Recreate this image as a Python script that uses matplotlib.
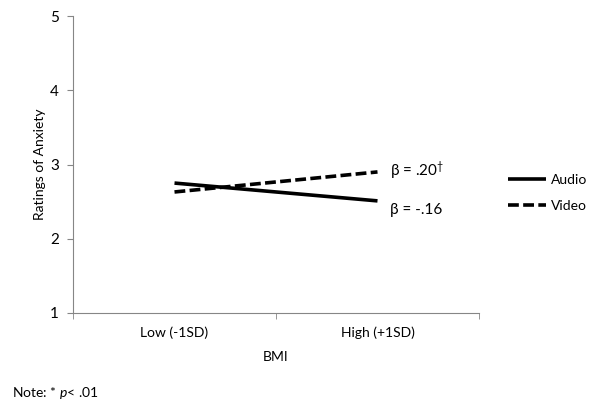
import matplotlib
matplotlib.use('Agg')
import matplotlib.pyplot as plt
from matplotlib.lines import Line2D

plt.rcParams['font.family'] = ['Lato', 'DejaVu Sans']
plt.rcParams['mathtext.fontset'] = 'custom'
plt.rcParams['mathtext.rm'] = 'Lato'
plt.rcParams['mathtext.it'] = 'Lato:italic'

categories = ['Low (-1SD)', 'High (+1SD)']
audio = [2.75, 2.51]
video = [2.63, 2.90]
audio_label = 'β = -.16'
video_label = r'β = .20$^{\dagger}$'

fig = plt.figure(figsize=(6, 4.15), dpi=100)
ax = fig.add_axes([73 / 600, 1 - 313 / 415, (479 - 73) / 600, (313 - 16) / 415])

x = list(range(len(categories)))
ax.plot(x, audio, color='black', lw=2.6, solid_capstyle='butt', label='Audio')
ax.plot(x, video, color='black', lw=2.6, ls=(0, (3, 1.2)), dash_capstyle='butt', label='Video')

ax.text(x[-1] + 0.06, video[-1] + 0.02, video_label, fontsize=11, va='center', ha='left')
ax.text(x[-1] + 0.06, audio[-1] - 0.12, audio_label, fontsize=11, va='center', ha='left')

ax.set_xlim(-0.5, 1.5)
ax.set_ylim(1, 5)
ax.set_yticks([1, 2, 3, 4, 5])
ax.set_xticks(x)
ax.set_xticklabels(categories)
ax.set_xticks([-0.5, 0.5, 1.5], minor=True)
ax.tick_params(axis='x', which='major', length=0, pad=10, labelsize=10)
ax.tick_params(axis='x', which='minor', length=4, color='#868686', direction='out')
ax.tick_params(axis='y', length=4, color='#868686', labelsize=11, pad=6)

for s in ['top', 'right']:
    ax.spines[s].set_visible(False)
for s in ['left', 'bottom']:
    ax.spines[s].set_color('#868686')

ax.set_ylabel('Ratings of Anxiety', fontsize=10, labelpad=3)
ax.set_xlabel('BMI', fontsize=10, labelpad=8)

handles = [Line2D([], [], color='black', lw=2.6, solid_capstyle='butt'),
           Line2D([], [], color='black', lw=2.6, ls=(0, (3, 1.2)), dash_capstyle='butt')]
fig.legend(handles, ['Audio', 'Video'], loc='center left', bbox_to_anchor=(0.825, 0.535),
           frameon=False, fontsize=10, handlelength=2.8, handletextpad=0.3, labelspacing=1.0)

fig.text(12 / 600, 1 - 393 / 415, r'Note: * $\it{p}$< .01', fontsize=10, va='center')

fig.savefig('out.png', dpi=100)
